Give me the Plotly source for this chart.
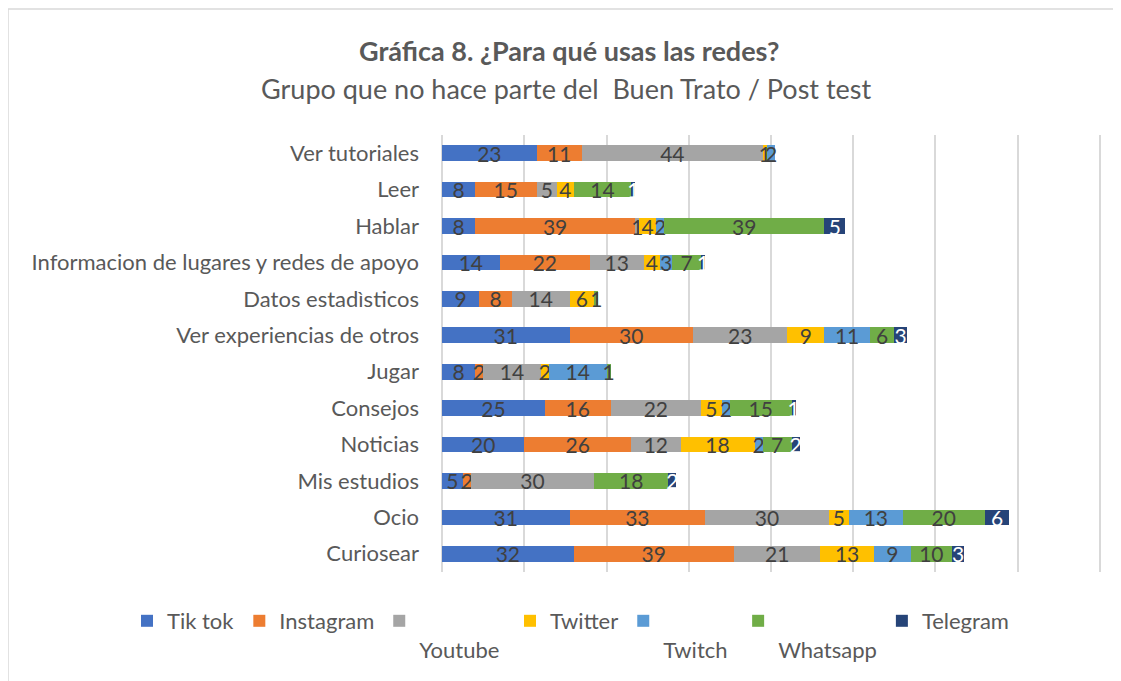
import plotly.graph_objects as go

categories = ["Ver tutoriales", "Leer", "Hablar", "Informacion de lugares y redes de apoyo",
              "Datos estadìsticos", "Ver experiencias de otros", "Jugar", "Consejos",
              "Noticias", "Mis estudios", "Ocio", "Curiosear"]

series_names = ["Tik tok", "Instagram", "Youtube", "Twitter", "Twitch", "Whatsapp", "Telegram"]
legend_labels = ["Tik tok", "Instagram", "&nbsp;<br>Youtube&nbsp;", "Twitter",
                 "&nbsp;<br>Twitch&nbsp;", "&nbsp;<br>Whatsapp", "Telegram"]

tiktok    = [23, 8, 8, 14, 9, 31, 8, 25, 20, 5, 31, 32]
instagram = [11, 15, 39, 22, 8, 30, 2, 16, 26, 2, 33, 39]
youtube   = [44, 5, 1, 13, 14, 23, 14, 22, 12, 30, 30, 21]
twitter   = [1, 4, 4, 4, 6, 9, 2, 5, 18, 0, 5, 13]
twitch    = [2, 0, 2, 3, 0, 11, 14, 2, 2, 0, 13, 9]
whatsapp  = [0, 14, 39, 7, 1, 6, 1, 15, 7, 18, 20, 10]
telegram  = [0, 1, 5, 1, 0, 3, 0, 1, 2, 2, 6, 3]

series_values = [tiktok, instagram, youtube, twitter, twitch, whatsapp, telegram]
colors = ["#4472C4", "#ED7D31", "#A5A5A5", "#FFC000", "#5B9BD5", "#70AD47", "#264478"]
text_colors = ["#404040"] * 6 + ["#FFFFFF"]

FONT = "Lato"
OFF = 8  # page body margin

fig = go.Figure()
for name, lab, vals, col, tcol in zip(series_names, legend_labels, series_values, colors, text_colors):
    fig.add_trace(go.Bar(
        y=categories, x=vals, name=lab, orientation="h",
        marker=dict(color=col, line=dict(width=0)),
        text=[str(v) if v else "" for v in vals],
        textposition="inside", insidetextanchor="middle", textangle=0,
        textfont=dict(family=FONT, size=21, color=tcol),
        cliponaxis=False, width=0.43,
    ))

# target page-pixel geometry of the plot area
W0, W1 = 440, 1102
T0, T1 = 135, 572
pw, ph = W1 - W0, T1 - T0

def px2x(p):
    return (p - W0) / pw

def py2y(p):
    return (T1 - p) / ph

fig.update_layout(
    barmode="stack",
    width=1121, height=681,
    margin=dict(l=W0 - OFF, r=1121 - (W1 - OFF), t=T0 - OFF, b=681 - (T1 - OFF), autoexpand=False),
    paper_bgcolor="white", plot_bgcolor="white",
    font=dict(family=FONT, color="#595959"),
    uniformtext=dict(minsize=21, mode="show"),
    xaxis=dict(range=[-0.5, 160.5], tickvals=[0, 20, 40, 60, 80, 100, 120, 140, 160],
               showticklabels=False, showgrid=True,
               gridcolor="#D9D9D9", gridwidth=2, zeroline=False, fixedrange=True),
    yaxis=dict(autorange="reversed", showgrid=False, zeroline=False,
               tickfont=dict(family=FONT, size=22, color="#595959"),
               ticklabelstandoff=20, fixedrange=True),
    showlegend=True,
    legend=dict(orientation="h", x=px2x(127), y=py2y(600), xanchor="left", yanchor="top",
                font=dict(family=FONT, size=22, color="#595959"), valign="top",
                itemwidth=30, traceorder="normal"),
    annotations=[
        dict(text="<b>Gráfica 8. ¿Para qué usas las redes?</b>", xref="paper", yref="paper",
             x=px2x(569), y=py2y(50), xanchor="center", yanchor="middle", showarrow=False,
             font=dict(family=FONT, size=27, color="#595959")),
        dict(text="Grupo que no hace parte del  Buen Trato / Post test", xref="paper", yref="paper",
             x=px2x(566), y=py2y(88), xanchor="center", yanchor="middle", showarrow=False,
             font=dict(family=FONT, size=27, color="#595959")),
    ],
    shapes=[dict(type="rect", xref="paper", yref="paper",
                 x0=px2x(8), x1=px2x(1116), y0=py2y(700), y1=py2y(9),
                 line=dict(color="#D9D9D9", width=1.5), fillcolor="rgba(0,0,0,0)", layer="below")],
)

fig.write_html("out.html")
